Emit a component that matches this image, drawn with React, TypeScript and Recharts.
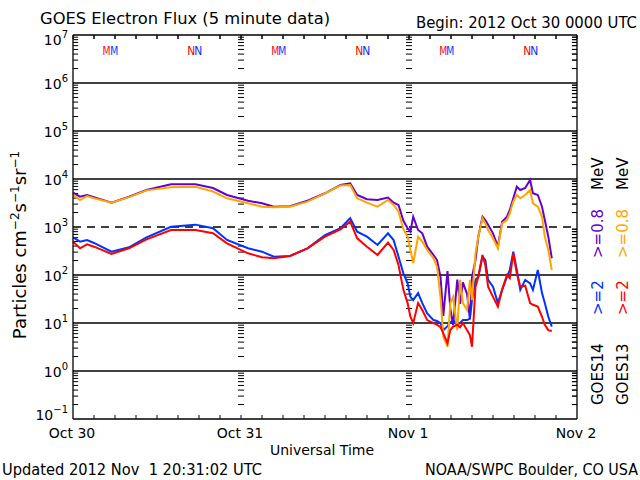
import React from 'react';
import { ComposedChart, Line, XAxis, YAxis, ReferenceLine, ReferenceDot } from 'recharts';

// hours since 2012 Oct 30 0000 UTC
const hours = [
  0, 1, 2, 3, 5.5, 8, 10.5, 14, 17.5, 20, 22, 25, 27,
  28.7, 31, 33.5, 36, 38.2, 39.6, 40.6, 42, 43.5, 45,
  45.8, 46.5, 47.2, 47.8, 48.2, 48.6, 49.3, 49.9, 50.6, 51.5,
  52, 52.5, 52.9, 53.5, 53.9, 54.3, 54.9, 55.3, 55.7, 56.3,
  56.7, 57, 57.5, 57.9, 58.5, 58.9, 59.3, 60, 60.7, 61.3,
  62, 62.4, 62.9, 63.4, 63.9, 64.6, 65.3, 65.7, 66.4, 67,
  67.4, 67.9, 68.4,
];

// GOES14 >=0.8 MeV
const g14Mev08 = [
  5190, 4280, 4640, 4200, 3210, 4280, 5900, 7760, 7760, 6490, 4640, 3520, 3120,
  2650, 2720, 3520, 5040, 7500, 8130, 4640, 3800, 3650, 4110,
  3210, 2870, 1350, 940, 798, 1640, 866, 739, 389, 261,
  205, 92, 14, 120, 20, 9, 80, 25, 70, 40,
  12, 90, 205, 628, 1640, 1400, 1120, 739, 389, 1290,
  1640, 2260, 3960, 6920, 5900, 6490, 9530, 5040, 4640, 2650,
  1400, 628, 223,
];

// GOES13 >=0.8 MeV
const g13Mev08 = [
  4700, 3650, 4400, 3960, 3210, 4200, 5800, 6700, 6920, 5480, 3960, 3120, 2650,
  2580, 2650, 3370, 5040, 7300, 7500, 3960, 3210, 2650, 3650,
  2870, 2090, 900, 628, 332, 178, 628, 494, 332, 223,
  149, 35, 5.2, 3.2, 26, 35, 7.1, 79, 26, 18.7,
  79, 30, 283, 628, 1520, 1190, 866, 582, 360, 1190,
  1400, 1930, 3370, 4640, 3960, 4640, 5900, 3120, 2650, 1640,
  628, 332, 127,
];

// GOES14 >=2 MeV
const g14Mev2 = [
  610, 494, 536, 465, 306, 378, 610, 1010, 1120, 940, 536, 360, 306,
  241, 249, 360, 681, 940, 1520, 798, 628, 422, 739,
  536, 241, 108, 67, 35, 30, 42, 26, 15.9, 11.5,
  11, 9.9, 7.1, 8.6, 10.3, 11.5, 9.2, 10, 11.5, 11.5,
  12.4, 30, 79, 92, 241, 205, 79, 57, 26, 49,
  92, 127, 306, 127, 49, 79, 67, 49, 127, 42,
  26, 13.5, 8.4,
];

// GOES13 >=2 MeV
const g13Mev2 = [
  494, 360, 436, 389, 274, 360, 554, 866, 866, 739, 457, 283, 234,
  223, 249, 360, 628, 890, 1290, 582, 389, 261, 471,
  332, 162, 49, 26, 13.5, 9.9, 26, 18.7, 11.5, 9.9,
  9.2, 8.2, 6.1, 3.8, 7.1, 8.4, 9.2, 8.2, 10, 7.1,
  5.6, 3.2, 57, 92, 261, 162, 57, 35, 22, 49,
  100, 86, 283, 108, 57, 60, 26, 24, 22, 13.5,
  9.2, 7.1, 6.8,
];

// local midnight (M) / noon (N) markers
const g13MarkerHours = [4.8, 16.9, 28.9, 40.9, 52.9, 64.9];
const g14MarkerHours = [5.9, 17.9, 29.9, 41.9, 53.9, 65.9];
const markerLetters = ['M', 'N', 'M', 'N', 'M', 'N'];

const decades = [0.1, 1, 10, 100, 1e3, 1e4, 1e5, 1e6, 1e7];
const minorMultipliers = [2, 3, 4, 5, 6, 7, 8, 9];
const hourTicks = [0, 3, 6, 9, 12, 15, 18, 21, 24, 27, 30, 33, 36, 39, 42, 45, 48, 51, 54, 57, 60, 63, 66, 69, 72];
const dayLabels: Record<number, string> = { 0: 'Oct 30', 24: 'Oct 31', 48: 'Nov 1', 72: 'Nov 2' };
const dayBoundaries = [24, 48];

const minorTicks = decades.slice(0, -1).flatMap((d) => minorMultipliers.map((m) => d * m));
const innerHourTicks = hourTicks.slice(1, -1);
const rows = hours.map((t, i) => ({
  t,
  g14e08: g14Mev08[i],
  g13e08: g13Mev08[i],
  g14e2: g14Mev2[i],
  g13e2: g13Mev2[i],
}));

const FONT = '"DejaVu Sans", sans-serif';
const PURPLE = '#6600CC';
const ORANGE = '#FFA500';
const BLUE = '#0033FF';
const RED = '#FF0000';
const markerLevel = 4.7e6;
// tick ends in data units, kept just inside the frame (about 5 px along x, 4 px along y)
const xIn = 0.02;
const yTickLen = 0.73;
const yLow = 0.101;
const yLowEnd = 0.121;
const yHigh = 0.99e7;
const yHighEnd = 0.825e7;

const LeftTick = (props: any) => {
  const { x, y, payload } = props;
  const exp = Math.round(Math.log10(payload.value));
  const dy = exp === 7 ? 10 : exp === -1 ? 1 : 5.5;
  return (
    <text x={x - 5} y={y + dy} textAnchor="end" fontSize={14} fontFamily={FONT} fill="#000">
      10<tspan dy={-7} fontSize={10}>{exp < 0 ? '\u2212' + -exp : exp}</tspan>
    </text>
  );
};

const BottomTick = (props: any) => {
  const { x, y, payload } = props;
  const label = dayLabels[payload.value];
  if (!label) return <g />;
  return (
    <text x={x - 1} y={y + 19} textAnchor="middle" fontSize={14} fontFamily={FONT} fill="#000">
      {label}
    </text>
  );
};

const NoLabel = () => <g />;

const markerShape = (letter: string, color: string) => (p: any) => (
  <text x={p.cx} y={p.cy + 4.5} textAnchor="middle" fontSize={12} fontFamily={FONT} fill={color}
    textLength={8} lengthAdjust="spacingAndGlyphs">
    {letter}
  </text>
);

const axisStroke = { stroke: '#000', strokeWidth: 1.3 };

const tickSeg = (key: string, a: { x: number; y: number }, b: { x: number; y: number }) => (
  <ReferenceLine key={key} stroke="#000" strokeWidth={1} segment={[a, b]} />
);

const App = () => {
  return (
    <div style={{ position: 'absolute', left: 0, top: 0, width: 640, height: 480, background: '#fff' }}>
      <ComposedChart width={640} height={480} data={rows} margin={{ top: 34, right: 62, bottom: 60, left: 72 }}>
        <XAxis dataKey="t" type="number" domain={[0, 72]} ticks={hourTicks} interval={0} height={1}
          tickSize={0} tickMargin={0} tickLine={false} axisLine={axisStroke} tick={BottomTick} allowDataOverflow />
        <XAxis xAxisId="top" orientation="top" dataKey="t" type="number" domain={[0, 72]} ticks={hourTicks}
          interval={0} height={1} tickSize={-4} tickMargin={0} tickLine={{ stroke: '#000' }} tick={NoLabel}
          axisLine={axisStroke} allowDataOverflow />
        <YAxis scale="log" type="number" domain={[0.1, 1e7]} ticks={decades} interval={0} width={1}
          tickSize={0} tickMargin={0} tickLine={false} axisLine={axisStroke} tick={LeftTick} allowDataOverflow />
        <YAxis yAxisId="right" orientation="right" scale="log" type="number" domain={[0.1, 1e7]} ticks={minorTicks}
          interval={0} width={1} tickSize={-5} tickMargin={0} tickLine={{ stroke: '#000' }} tick={NoLabel}
          axisLine={axisStroke} allowDataOverflow />

        {decades.slice(1, -1).map((d) => (
          <ReferenceLine key={`grid-${d}`} y={d} stroke="#000" strokeWidth={1.3}
            strokeDasharray={d === 1e3 ? '8 6' : undefined} />
        ))}
        {dayBoundaries.flatMap((day) =>
          minorTicks.map((v) => tickSeg(`dash-${day}-${v}`, { x: day - 0.43, y: v }, { x: day + 0.43, y: v }))
        )}
        {minorTicks.map((v) => tickSeg(`left-${v}`, { x: xIn, y: v }, { x: yTickLen, y: v }))}
        {minorTicks.map((v) => tickSeg(`right-${v}`, { x: 72 - yTickLen, y: v }, { x: 72 - xIn, y: v }))}
        {innerHourTicks.map((h) => tickSeg(`bot-${h}`, { x: h, y: yLow }, { x: h, y: yLowEnd }))}
        {innerHourTicks.map((h) => tickSeg(`top-${h}`, { x: h, y: yHighEnd }, { x: h, y: yHigh }))}

        <Line type="linear" dataKey="g14e08" stroke={PURPLE} strokeWidth={2} dot={false} isAnimationActive={false} />
        <Line type="linear" dataKey="g14e2" stroke={BLUE} strokeWidth={2} dot={false} isAnimationActive={false} />
        <Line type="linear" dataKey="g13e08" stroke={ORANGE} strokeWidth={2} dot={false} isAnimationActive={false} />
        <Line type="linear" dataKey="g13e2" stroke={RED} strokeWidth={2} dot={false} isAnimationActive={false} />

        {g13MarkerHours.map((t, i) => (
          <ReferenceDot key={`m13-${t}`} x={t} y={markerLevel} r={0} shape={markerShape(markerLetters[i], RED)} />
        ))}
        {g14MarkerHours.map((t, i) => (
          <ReferenceDot key={`m14-${t}`} x={t} y={markerLevel} r={0} shape={markerShape(markerLetters[i], BLUE)} />
        ))}
      </ComposedChart>

      <svg width={640} height={480} style={{ position: 'absolute', left: 0, top: 0, pointerEvents: 'none' }}
        fontFamily={FONT} fill="#000">
        <text x={40} y={24} fontSize={16} textLength={290} lengthAdjust="spacingAndGlyphs">
          GOES Electron Flux (5 minute data)
        </text>
        <text x={416} y={28} fontSize={15} textLength={221} lengthAdjust="spacingAndGlyphs">
          Begin: 2012 Oct 30 0000 UTC
        </text>
        <text x={322} y={455} fontSize={14} textAnchor="middle">Universal Time</text>
        <text x={2} y={475} fontSize={15} style={{ whiteSpace: 'pre' }} textLength={260} lengthAdjust="spacingAndGlyphs">
          {'Updated 2012 Nov  1 20:31:02 UTC'}
        </text>
        <text x={638} y={475} fontSize={15} textAnchor="end" textLength={213} lengthAdjust="spacingAndGlyphs">
          NOAA/SWPC Boulder, CO USA
        </text>
        <text x={26} y={245} fontSize={18} textAnchor="middle" transform="rotate(-90 26 245)">
          Particles cm<tspan dy={-7} fontSize={12}>−2</tspan>
          <tspan dy={7}>s</tspan><tspan dy={-7} fontSize={12}>−1</tspan>
          <tspan dy={7}>sr</tspan><tspan dy={-7} fontSize={12}>−1</tspan>
        </text>

        <g fontSize={15}>
          <text x={603} y={405} transform="rotate(-90 603 405)">GOES14</text>
          <text x={603} y={315} transform="rotate(-90 603 315)" fill={BLUE}>&gt;=2</text>
          <text x={603} y={258} transform="rotate(-90 603 258)" fill={PURPLE}>&gt;=0.8</text>
          <text x={603} y={190} transform="rotate(-90 603 190)">MeV</text>
          <text x={628} y={405} transform="rotate(-90 628 405)">GOES13</text>
          <text x={628} y={315} transform="rotate(-90 628 315)" fill={RED}>&gt;=2</text>
          <text x={628} y={258} transform="rotate(-90 628 258)" fill={ORANGE}>&gt;=0.8</text>
          <text x={628} y={190} transform="rotate(-90 628 190)">MeV</text>
        </g>
      </svg>
    </div>
  );
};

export default App;
